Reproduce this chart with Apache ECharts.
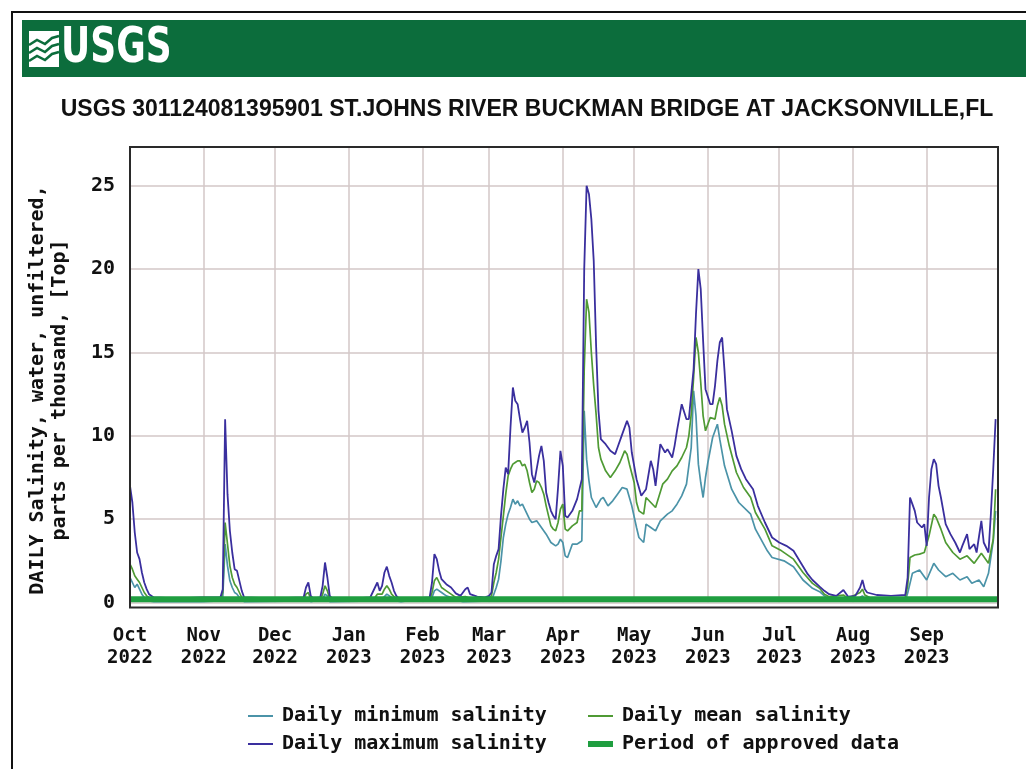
<!DOCTYPE html>
<html>
<head>
<meta charset="utf-8">
<script src="https://cdn.jsdelivr.net/npm/echarts@6/dist/echarts.min.js"></script>
<style>
  html, body { margin: 0; padding: 0; background: #fff; }
  #chart { width: 1026px; height: 769px; }
</style>
</head>
<body>
<div id="chart"></div>
<script>
// day offsets are counted from 2022-10-01
const monthLabels = [
  'Oct\n2022', 'Nov\n2022', 'Dec\n2022', 'Jan\n2023', 'Feb\n2023', 'Mar\n2023',
  'Apr\n2023', 'May\n2023', 'Jun\n2023', 'Jul\n2023', 'Aug\n2023', 'Sep\n2023'
];
const yTicks = [0, 5, 10, 15, 20, 25];

const minSalinity = [
  [0,1.5],[1,1.2],[2,0.9],[3,1.1],[4,0.8],[5,0.5],[6,0.3],[8,0.1],[10,0.05],[30,0.05],
  [38,0.1],[39,0.3],[40,3.5],[41,2.2],[42,1.3],[43,0.9],[44,0.6],[45,0.5],[46,0.3],[47,0.15],[48,0.05],
  [74,0.1],[75,0.3],[76,0.05],[81,0.2],[82,0.5],[83,0.4],[84,0.05],
  [103,0.1],[104,0.3],[106,0.2],[108,0.5],[110,0.3],[112,0.1],[114,0.05],
  [127,0.3],[128,0.7],[129,0.8],[131,0.6],[133,0.4],[135,0.3],[137,0.15],[140,0.05],
  [152,0.1],[153,0.5],[154,0.9],[155,1.4],[156,2.5],[157,3.9],[158,4.7],[159,5.3],[160,5.7],
  [161,6.2],[162,5.9],[163,6.1],[164,5.8],[165,5.9],[166,5.6],[167,5.3],[168,5.0],[169,4.8],
  [171,4.9],[173,4.5],[175,4.1],[177,3.6],[179,3.4],[180,3.5],[181,3.8],[182,3.6],[183,2.8],
  [184,2.7],[186,3.5],[188,3.5],[189,3.6],[190,3.7],[191,11.5],[192,8.6],[193,7.3],[194,6.3],
  [196,5.7],[198,6.2],[199,6.3],[201,5.8],[203,6.1],[205,6.5],[207,6.9],[209,6.8],[211,5.8],
  [213,4.5],[214,3.9],[216,3.6],[217,4.7],[219,4.5],[221,4.3],[223,4.9],[226,5.3],[228,5.5],
  [230,5.9],[232,6.4],[234,7.1],[236,9.3],[237,12.7],[238,11.2],[239,8.3],[240,7.2],[241,6.3],
  [242,7.5],[243,8.4],[245,9.9],[247,10.7],[248,9.8],[250,8.2],[253,6.8],[256,6.0],[261,5.3],
  [263,4.4],[268,3.1],[270,2.7],[275,2.5],[279,2.15],[283,1.35],[287,0.85],[290,0.65],[292,0.4],
  [294,0.2],[298,0.1],[307,0.3],[308,0.4],[309,0.2],[311,0.1],[326,0.1],[327,0.55],[329,1.75],
  [332,1.95],[335,1.35],[338,2.35],[340,1.95],[343,1.55],[346,1.75],[349,1.35],[352,1.55],
  [354,1.15],[357,1.35],[359,0.95],[361,1.75],[363,3.7],[364,5.5]
];

const meanSalinity = [
  [0,2.3],[1,2.0],[2,1.6],[3,1.4],[4,1.2],[5,0.9],[6,0.6],[7,0.4],[8,0.3],[10,0.15],[20,0.12],[30,0.15],
  [38,0.2],[39,0.6],[40,4.8],[41,3.5],[42,2.2],[43,1.5],[44,1.1],[45,0.9],[46,0.6],[47,0.3],[48,0.15],
  [60,0.12],[73,0.15],[74,0.5],[75,0.6],[76,0.2],[80,0.15],[81,0.5],[82,1.0],[83,0.7],[84,0.2],
  [95,0.12],[103,0.3],[104,0.5],[106,0.5],[107,0.8],[108,1.0],[109,0.8],[110,0.5],[112,0.2],
  [126,0.15],[127,0.6],[128,1.3],[129,1.5],[130,1.2],[131,0.9],[133,0.7],[135,0.5],[137,0.3],
  [141,0.35],[143,0.25],[150,0.2],[152,0.4],[153,1.2],[154,1.8],[155,2.6],[156,3.9],[157,5.2],
  [158,6.5],[159,7.6],[160,8.0],[161,8.3],[162,8.4],[163,8.5],[164,8.5],[165,8.2],[166,8.3],
  [167,7.9],[168,7.2],[169,6.6],[170,6.8],[171,7.3],[172,7.2],[173,6.9],[174,6.5],[175,5.8],
  [176,5.2],[177,4.6],[178,4.4],[179,4.3],[180,4.8],[181,5.6],[182,5.9],[183,4.4],[184,4.3],
  [186,4.6],[188,4.8],[189,5.5],[190,5.5],[191,14.0],[192,18.2],[193,17.4],[194,15.0],[195,13.0],
  [196,11.3],[197,9.3],[198,8.6],[200,7.9],[202,7.5],[204,7.9],[206,8.4],[208,9.1],[209,8.9],
  [210,8.3],[212,7.2],[213,6.0],[214,5.5],[216,5.3],[217,6.3],[219,6.0],[221,5.7],[224,7.1],
  [226,7.4],[228,7.9],[230,8.2],[232,8.7],[234,9.3],[235,10.0],[236,11.3],[237,13.5],[238,15.9],
  [239,15.0],[240,13.2],[241,11.2],[242,10.3],[244,11.1],[246,11.0],[247,11.8],[248,12.3],
  [249,11.8],[250,10.7],[252,9.4],[255,7.8],[258,6.9],[261,6.3],[263,5.4],[267,4.4],[270,3.4],
  [274,3.1],[279,2.6],[283,1.8],[287,1.15],[290,0.85],[292,0.5],[294,0.35],[300,0.45],[302,0.25],
  [307,0.6],[308,0.8],[309,0.45],[311,0.3],[320,0.25],[326,0.3],[327,1.0],[328,2.7],[330,2.85],
  [332,2.9],[334,3.0],[336,4.0],[338,5.3],[339,5.1],[341,4.4],[343,3.6],[346,3.0],[349,2.6],
  [352,2.8],[355,2.35],[358,2.95],[361,2.35],[363,3.8],[364,6.8]
];

const maxSalinity = [
  [0,7.0],[1,6.0],[2,4.2],[3,3.0],[4,2.6],[5,1.8],[6,1.2],[7,0.8],[8,0.5],[10,0.3],[20,0.25],[30,0.3],
  [38,0.3],[39,0.8],[40,11.0],[41,6.5],[42,4.3],[43,3.0],[44,2.0],[45,1.9],[46,1.3],[47,0.7],[48,0.3],
  [60,0.25],[73,0.3],[74,0.9],[75,1.2],[76,0.4],[77,0.25],[80,0.3],[81,1.0],[82,2.4],[83,1.5],
  [84,0.4],[85,0.25],[95,0.25],[101,0.3],[103,0.9],[104,1.2],[105,0.7],[106,1.0],[107,1.8],
  [108,2.15],[109,1.6],[110,1.2],[111,0.7],[112,0.4],[113,0.25],[120,0.25],[126,0.3],[127,1.2],
  [128,2.9],[129,2.6],[130,1.9],[131,1.4],[133,1.1],[135,0.9],[137,0.55],[139,0.4],[141,0.8],
  [142,0.9],[143,0.5],[146,0.35],[149,0.3],[151,0.4],[152,0.6],[153,2.3],[154,2.8],[155,3.2],
  [156,5.2],[157,6.8],[158,8.1],[159,7.7],[160,10.5],[161,12.9],[162,12.1],[163,11.9],[164,11.0],
  [165,10.2],[166,10.5],[167,10.9],[168,9.6],[169,7.7],[170,7.2],[171,8.0],[172,8.8],[173,9.4],
  [174,8.5],[175,6.6],[176,6.0],[177,5.5],[178,5.2],[179,5.0],[180,6.9],[181,9.1],[182,8.2],
  [183,5.2],[184,5.1],[186,5.5],[188,6.2],[189,6.8],[190,7.4],[191,20.0],[192,25.0],[193,24.5],
  [194,23.0],[195,20.5],[196,15.4],[197,11.5],[198,9.8],[200,9.5],[202,9.1],[204,8.9],[205,9.3],
  [207,10.1],[209,10.9],[210,10.5],[211,9.0],[213,7.4],[215,6.4],[217,6.8],[219,8.5],[220,8.0],
  [221,7.0],[223,9.5],[225,9.0],[226,9.2],[228,8.7],[229,9.4],[230,10.3],[232,11.9],[234,11.0],
  [235,11.0],[236,12.5],[237,14.0],[238,17.3],[239,20.0],[240,18.8],[241,15.7],[242,12.8],
  [244,11.9],[245,11.9],[246,13.0],[247,14.5],[248,15.6],[249,15.9],[250,13.9],[251,11.6],
  [253,10.3],[255,8.8],[257,8.0],[259,7.4],[262,6.8],[264,5.8],[267,4.8],[270,3.9],[273,3.6],
  [276,3.4],[279,3.1],[282,2.4],[285,1.7],[287,1.35],[290,0.95],[292,0.7],[294,0.5],[297,0.4],
  [300,0.75],[302,0.35],[305,0.4],[307,0.9],[308,1.35],[309,0.8],[310,0.6],[314,0.45],[320,0.4],
  [326,0.45],[327,1.5],[328,6.3],[329,5.9],[330,5.5],[331,4.8],[333,4.5],[334,4.7],[335,3.4],
  [336,6.3],[337,8.0],[338,8.6],[339,8.3],[340,7.0],[341,6.3],[343,4.7],[345,4.1],[347,3.6],
  [349,3.0],[350,3.4],[352,4.1],[353,3.2],[355,3.5],[356,3.0],[358,4.9],[359,3.6],[361,3.0],
  [362,5.3],[363,8.0],[364,11.0]
];

// approved-data bar runs over the whole water year
const approvedPeriod = [[0, 0.2], [365, 0.2]];

const monoFont = '"DejaVu Sans Mono", "Liberation Mono", monospace';

function dayToTime(d) {
  return new Date(2022, 9, 1 + d).getTime();
}
function toSeries(arr) {
  return arr.map(p => [dayToTime(p[0]), p[1]]);
}

const chart = echarts.init(document.getElementById('chart'), null, { renderer: 'canvas' });

const option = {
  backgroundColor: '#ffffff',
  animation: false,
  grid: { left: 130, right: 28, top: 147, bottom: 166.5, show: false },
  xAxis: {
    type: 'time',
    min: dayToTime(0),
    max: dayToTime(365),
    minInterval: 28 * 86400000,
    maxInterval: 31 * 86400000,
    axisLine: { show: false },
    axisTick: { show: false },
    splitLine: { show: true, lineStyle: { color: '#d3c7c7', width: 1.5 } },
    axisLabel: {
      showMinLabel: true,
      showMaxLabel: false,
      hideOverlap: false,
      margin: 23,
      fontFamily: monoFont,
      fontWeight: 'bold',
      fontSize: 19,
      lineHeight: 22,
      color: '#111',
      formatter: function (val) {
        const d = new Date(val);
        const idx = (d.getFullYear() - 2022) * 12 + d.getMonth() - 9;
        return monthLabels[idx] || '';
      }
    }
  },
  yAxis: {
    type: 'value',
    min: 0,
    max: 27.33,
    interval: 5,
    axisLine: { show: false },
    axisTick: { show: false },
    splitLine: { show: true, lineStyle: { color: '#d3c7c7', width: 1.5 } },
    axisLabel: {
      margin: 15,
      fontFamily: monoFont,
      fontWeight: 'bold',
      fontSize: 20,
      color: '#111',
      showMaxLabel: false,
      formatter: v => (yTicks.indexOf(v) >= 0 ? String(v) : '')
    }
  },
  legend: [
    { data: ['Daily minimum salinity'], left: 243, top: 701 },
    { data: ['Daily mean salinity'], left: 583, top: 701 },
    { data: ['Daily maximum salinity'], left: 243, top: 729 },
    { data: ['Period of approved data'], left: 583, top: 729, itemHeight: 6 }
  ].map(l => Object.assign({
    icon: 'rect',
    itemWidth: 25,
    itemHeight: 2,
    selectedMode: false,
    textStyle: { fontFamily: monoFont, fontWeight: 'bold', fontSize: 20, color: '#111', padding: [0, 0, 0, 4] }
  }, l)),
  series: [
    {
      name: 'Daily minimum salinity', type: 'line', symbol: 'none',
      data: toSeries(minSalinity),
      lineStyle: { color: '#4b93a8', width: 1.7 }, itemStyle: { color: '#4b93a8' }
    },
    {
      name: 'Daily mean salinity', type: 'line', symbol: 'none',
      data: toSeries(meanSalinity),
      lineStyle: { color: '#4f9a34', width: 1.7 }, itemStyle: { color: '#4f9a34' }
    },
    {
      name: 'Daily maximum salinity', type: 'line', symbol: 'none',
      data: toSeries(maxSalinity),
      lineStyle: { color: '#3a2f9e', width: 1.8 }, itemStyle: { color: '#3a2f9e' }
    },
    {
      name: 'Period of approved data', type: 'line', symbol: 'none',
      data: toSeries(approvedPeriod),
      lineStyle: { color: '#1f9e40', width: 6 }, itemStyle: { color: '#1f9e40' }
    }
  ],
  graphic: {
    elements: [
      // outer frame and header band
      { type: 'rect', shape: { x: 12, y: 12, width: 1030, height: 770 },
        style: { fill: null, stroke: '#111', lineWidth: 2 }, silent: true },
      { type: 'rect', shape: { x: 22, y: 20, width: 1010, height: 57 },
        style: { fill: '#0c6d3c' }, silent: true },
      // USGS mark
      { type: 'rect', shape: { x: 29, y: 31, width: 30, height: 36 },
        style: { fill: '#ffffff' }, silent: true },
      { type: 'polyline', shape: { points: [[29, 45], [37, 40], [45, 44], [52, 38], [59, 36]] },
        style: { stroke: '#0c6d3c', lineWidth: 2.5, fill: null }, silent: true },
      { type: 'polyline', shape: { points: [[29, 53], [37, 48], [45, 52], [52, 46], [59, 44]] },
        style: { stroke: '#0c6d3c', lineWidth: 2.5, fill: null }, silent: true },
      { type: 'polyline', shape: { points: [[29, 61], [37, 56], [45, 60], [52, 54], [59, 52]] },
        style: { stroke: '#0c6d3c', lineWidth: 2.5, fill: null }, silent: true },
      { type: 'text', x: 61, y: 49, scaleX: 0.8,
        style: { text: 'USGS', fill: '#ffffff', verticalAlign: 'middle',
          font: 'bold 50px "Liberation Sans Narrow", "DejaVu Sans Condensed", "Liberation Sans", sans-serif' },
        silent: true },
      // title
      { type: 'text', x: 527, y: 110,
        style: { text: 'USGS 301124081395901 ST.JOHNS RIVER BUCKMAN BRIDGE AT JACKSONVILLE,FL',
          fill: '#111', align: 'center', verticalAlign: 'middle',
          font: 'bold 23px "Liberation Sans", Arial, sans-serif' },
        silent: true },
      // y axis name
      { type: 'text', x: 49, y: 390, rotation: Math.PI / 2,
        style: { text: 'DAILY Salinity, water, unfiltered,\nparts per thousand, [Top]',
          fill: '#111', align: 'center', verticalAlign: 'middle', lineHeight: 22,
          font: 'bold 20px ' + monoFont },
        silent: true },
      // plot frame
      { type: 'rect', z: 100, shape: { x: 130, y: 147, width: 868, height: 460.5 },
        style: { fill: null, stroke: '#2a2a2a', lineWidth: 2 }, silent: true }
    ]
  }
};

chart.setOption(option);
</script>
</body>
</html>
